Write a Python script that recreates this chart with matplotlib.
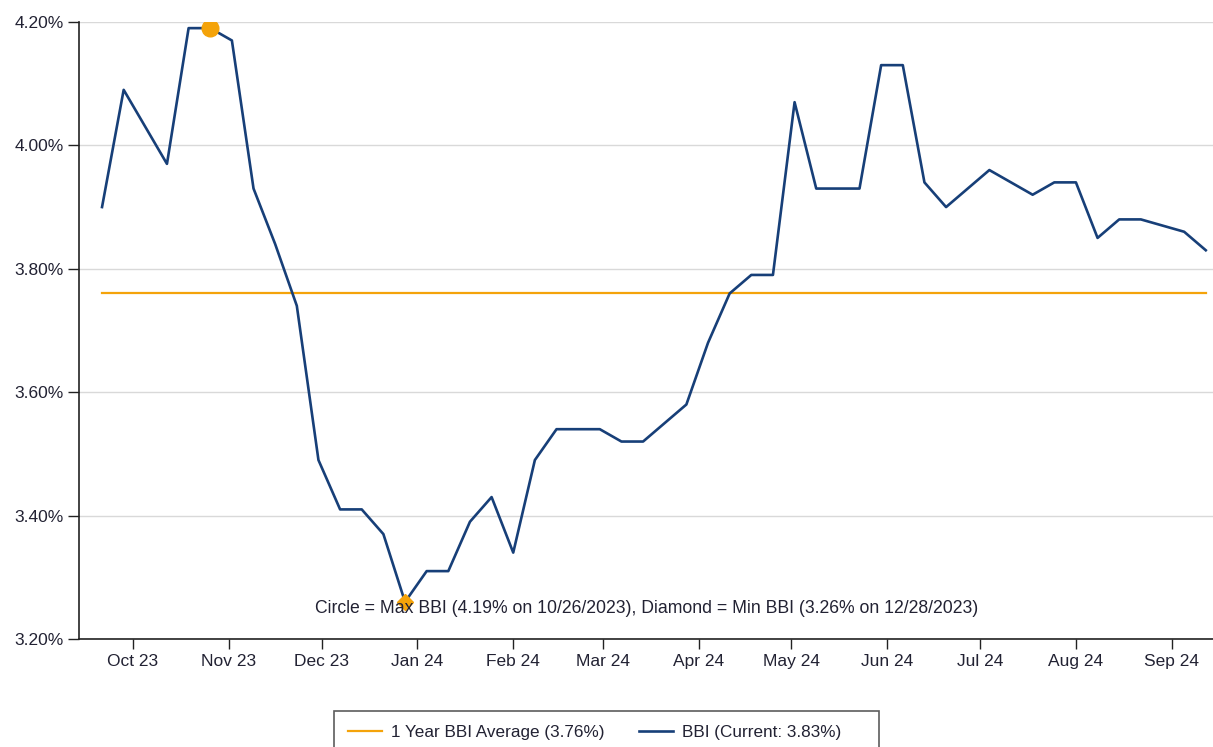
import matplotlib
matplotlib.use("Agg")
import matplotlib.pyplot as plt
import matplotlib.dates as mdates
from matplotlib.ticker import FuncFormatter, MultipleLocator
import pandas as pd

plt.rcParams["font.family"] = ["Liberation Sans", "DejaVu Sans"]

# weekly BBI readings (Thursdays)
dates = pd.date_range("2023-09-21", periods=52, freq="7D")
bbi = [3.90, 4.09, 4.03, 3.97, 4.19, 4.19, 4.17, 3.93, 3.84, 3.74,
       3.49, 3.41, 3.41, 3.37, 3.26, 3.31, 3.31, 3.39, 3.43, 3.34,
       3.49, 3.54, 3.54, 3.54, 3.52, 3.52, 3.55, 3.58, 3.68, 3.76,
       3.79, 3.79, 4.07, 3.93, 3.93, 3.93, 4.13, 4.13, 3.94, 3.90,
       3.93, 3.96, 3.94, 3.92, 3.94, 3.94, 3.85, 3.88, 3.88, 3.87,
       3.86, 3.83]
avg_bbi = 3.76
max_date, max_val = pd.Timestamp("2023-10-26"), 4.19
min_date, min_val = pd.Timestamp("2023-12-28"), 3.26
note = ("Circle = Max BBI (4.19% on 10/26/2023), "
        "Diamond = Min BBI (3.26% on 12/28/2023)")

navy = "#173f78"
orange = "#f4a30a"
text_col = "#222233"

fig = plt.figure(figsize=(12.13, 7.47), dpi=100)
ax = fig.add_axes([0.065, 0.1446, 0.935, 0.826])

ax.plot([dates[0], dates[-1]], [avg_bbi, avg_bbi], color=orange, lw=1.6,
        label="1 Year BBI Average (3.76%)", zorder=2)
ax.plot(dates, bbi, color=navy, lw=1.9, label="BBI (Current: 3.83%)     ",
        zorder=3)
ax.plot([max_date], [max_val], "o", color=orange, ms=12, zorder=4)
ax.plot([min_date], [min_val], "D", color=orange, ms=8, zorder=4)

ax.text(0.501, 0.05, note, transform=ax.transAxes, ha="center", va="center",
        fontsize=12.7, color=text_col, zorder=5)

ax.set_ylim(3.20, 4.20)
ax.set_xlim(pd.Timestamp("2023-09-13 12:00"), pd.Timestamp("2024-09-14 08:00"))
ax.yaxis.set_major_locator(MultipleLocator(0.2))
ax.yaxis.set_major_formatter(FuncFormatter(lambda v, p: f"{v:.2f}%"))
ax.xaxis.set_major_locator(mdates.MonthLocator())
ax.xaxis.set_major_formatter(mdates.DateFormatter("%b %y"))

ax.grid(axis="y", color="#d9d9d9", lw=1)
ax.set_axisbelow(True)
for s in ["top", "right"]:
    ax.spines[s].set_visible(False)
for s in ["left", "bottom"]:
    ax.spines[s].set_color("#222222")
    ax.spines[s].set_linewidth(1.2)
ax.tick_params(axis="y", length=8, width=1, color="#222222", pad=3,
               labelsize=12.5, labelcolor=text_col)
ax.tick_params(axis="x", length=7.5, width=1, color="#222222", pad=3,
               labelsize=12.5, labelcolor=text_col)

leg = fig.legend(loc="upper center", bbox_to_anchor=(0.5, 0.0595), ncol=2,
                 fontsize=12.3, frameon=True, fancybox=False, handlelength=2.0,
                 handletextpad=0.53, columnspacing=2.0, borderpad=0.8,
                 labelcolor=text_col)
leg.get_frame().set_edgecolor("#333333")
leg.get_frame().set_linewidth(1.2)

fig.savefig("out.png", dpi=100)
